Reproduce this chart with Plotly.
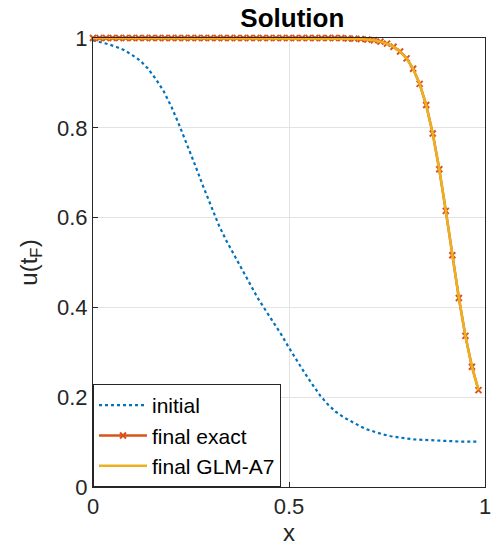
import plotly.graph_objects as go

# ---- data ----
x_init = [0.00, 0.02, 0.04, 0.06, 0.08, 0.10, 0.12, 0.14, 0.16, 0.18,
          0.20, 0.22, 0.24, 0.26, 0.28, 0.30, 0.32, 0.34, 0.36, 0.38,
          0.40, 0.42, 0.44, 0.46, 0.48, 0.50, 0.52, 0.54, 0.56, 0.58,
          0.60, 0.62, 0.64, 0.66, 0.68, 0.70, 0.72, 0.74, 0.76, 0.78,
          0.80, 0.82, 0.84, 0.86, 0.88, 0.90, 0.92, 0.94, 0.96, 0.98]
u_init = [0.995, 0.991, 0.986, 0.980, 0.973, 0.962, 0.950, 0.932, 0.909, 0.882,
          0.847, 0.806, 0.764, 0.718, 0.672, 0.627, 0.585, 0.549, 0.516, 0.485,
          0.453, 0.421, 0.394, 0.368, 0.340, 0.310, 0.281, 0.254, 0.228, 0.203,
          0.183, 0.167, 0.155, 0.145, 0.136, 0.128, 0.122, 0.117, 0.113, 0.110,
          0.108, 0.106, 0.105, 0.104, 0.103, 0.102, 0.102, 0.101, 0.101, 0.101]

x_final = [i / 60 for i in range(60)]
u_final = [1.0] * 39 + [0.999, 0.9986, 0.9978, 0.9966, 0.9948, 0.9919, 0.9875,
                        0.9807, 0.970, 0.9547, 0.9315, 0.8978, 0.8506, 0.7873,
                        0.7077, 0.6150, 0.5163, 0.4208, 0.3365, 0.2679, 0.2158]
u_glm = list(u_final)

x_ticks = [0, 0.5, 1]
x_tick_labels = ["0", "0.5", "1"]
y_ticks = [0, 0.2, 0.4, 0.6, 0.8, 1]
y_tick_labels = ["0", "0.2", "0.4", "0.6", "0.8", "1"]

FONT = "Liberation Sans, Arial, Helvetica, sans-serif"
TXT = "#262626"

fig = go.Figure()
fig.add_trace(go.Scatter(x=x_init, y=u_init, mode="lines", name="initial",
                         line=dict(color="#0072BD", width=2.2, dash="dot"),
                         cliponaxis=False))
fig.add_trace(go.Scatter(x=x_final, y=u_final, mode="lines+markers", name="final exact",
                         line=dict(color="#D95319", width=2.5),
                         marker=dict(symbol="x-thin", size=6, color="#D95319",
                                     line=dict(color="#D95319", width=2)),
                         cliponaxis=False))
fig.add_trace(go.Scatter(x=x_final, y=u_glm, mode="lines", name="final GLM-A7",
                         line=dict(color="#EDB120", width=2.5),
                         cliponaxis=False))

axis_common = dict(showline=True, linecolor=TXT, linewidth=1, mirror=True,
                   ticks="inside", ticklen=5, tickcolor=TXT,
                   showgrid=True, gridcolor="#e3e3e3", gridwidth=1,
                   zeroline=False, ticklabeloverflow="allow",
                   tickfont=dict(family=FONT, size=22, color=TXT))

fig.update_layout(
    width=493, height=551,
    margin=dict(l=93, r=2, t=38, b=64),
    paper_bgcolor="white", plot_bgcolor="white",
    font=dict(family=FONT, color=TXT),
    title=dict(text="<b>Solution</b>", x=0.593, xanchor="center", y=0.967, yanchor="middle",
               font=dict(family=FONT, size=26, color="black")),
    xaxis=dict(range=[0, 1], tickvals=x_ticks, ticktext=x_tick_labels,
               title=dict(text="x", font=dict(family=FONT, size=24, color=TXT), standoff=2),
               **axis_common),
    yaxis=dict(range=[0, 1], tickvals=y_ticks, ticktext=y_tick_labels,
               title=dict(text="u(t<sub>F</sub>)", font=dict(family=FONT, size=24, color=TXT), standoff=12),
               **axis_common),
    legend=dict(x=0, y=0, xanchor="left", yanchor="bottom",
                bgcolor="white", bordercolor=TXT, borderwidth=1,
                font=dict(family=FONT, size=21, color="black"),
                tracegroupgap=0, itemwidth=48),
    showlegend=True,
)

fig.write_html("out.html")
